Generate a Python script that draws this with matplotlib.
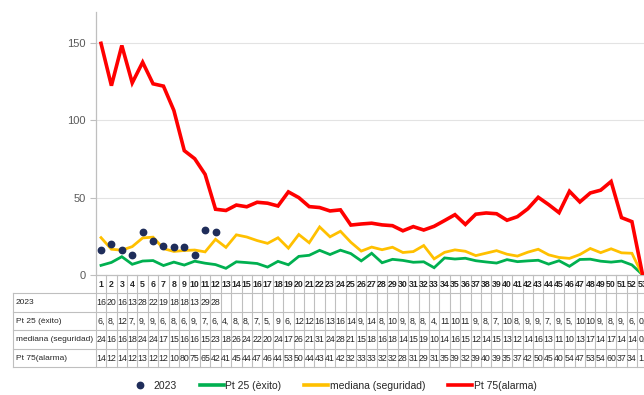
import matplotlib
matplotlib.use('Agg')
import matplotlib.pyplot as plt
from matplotlib.lines import Line2D
from matplotlib.transforms import blended_transform_factory

# ---------------- data ----------------
weeks = list(range(1, 54))
y2023 = [16, 20, 16, 13, 28, 22, 19, 18, 18, 13, 29, 28]
pt25 = [6.4, 8.3, 12.0, 7.1, 9.2, 9.5, 6.3, 8.5, 6.6, 9.1, 7.8, 6.9, 4.5, 8.7,
        8.2, 7.6, 5.3, 9.0, 6.8, 12.2, 12.9, 16.1, 13.4, 16.2, 14.0, 9.3, 14.2,
        8.1, 10.3, 9.6, 8.4, 8.7, 4.9, 11.2, 10.5, 11.0, 9.4, 8.6, 7.9, 10.1,
        8.8, 9.3, 9.7, 7.2, 9.4, 5.8, 10.2, 10.4, 9.1, 8.5, 9.2, 6.7, 0.5]
mediana = [24.3, 16.8, 16.2, 18.5, 24.1, 24.6, 17.2, 15.4, 16.0, 16.3, 15.1,
           23.2, 18.0, 26.1, 24.7, 22.4, 20.6, 24.2, 17.5, 26.3, 21.0, 31.2,
           24.8, 28.4, 21.3, 15.6, 18.2, 16.5, 18.1, 14.7, 15.3, 19.2, 10.6,
           14.8, 16.4, 15.5, 12.7, 14.3, 15.9, 13.6, 12.4, 14.9, 16.8, 13.2,
           11.5, 10.9, 13.4, 17.3, 14.6, 17.1, 14.5, 14.2, 0.3]
pt75 = [149.6, 122.3, 148.2, 124.1, 137.4, 123.5, 122.0, 106.3, 80.4, 75.2,
        65.1, 42.6, 41.8, 45.3, 44.2, 47.1, 46.5, 44.7, 53.8, 50.1, 44.3, 43.7,
        41.5, 42.2, 32.4, 33.1, 33.6, 32.5, 32.0, 28.7, 31.4, 29.2, 31.6, 35.3,
        39.1, 32.8, 39.4, 40.2, 39.7, 35.5, 37.8, 42.9, 50.3, 45.6, 40.4, 54.2,
        47.3, 53.1, 54.9, 60.5, 37.2, 34.6, 1.2]
row_labels = ['2023', 'Pt 25 (èxito)', 'mediana (seguridad)', 'Pt 75(alarma)']
yticks = [0, 50, 100, 150]

# ---------------- style ----------------
FONT = ['Liberation Sans Narrow', 'Liberation Sans', 'DejaVu Sans']
plt.rcParams['font.family'] = FONT
C_RED, C_GREEN, C_YEL, C_DOT = '#FF0000', '#00B050', '#FFC000', '#1F2D5A'
C_GRID, C_AXIS, C_TXT = '#E3E3E3', '#BFBFBF', '#595959'
C_TAB = '#BFBFBF'
TAB_FS = 6.3
LAB_FS = 6.0

W, H = 644, 395
fig = plt.figure(figsize=(W / 100, H / 100), dpi=100)

ax_left, ax_bottom_px, ax_top_px = 95.8, 275.3, 11.7
col_w = 10.41
ax = fig.add_axes([ax_left / W, (H - ax_bottom_px) / H,
                   53 * col_w / W, (ax_bottom_px - ax_top_px) / H])

ax.plot(weeks, pt25, color=C_GREEN, lw=2.0, solid_joinstyle='miter', zorder=3)
ax.plot(weeks, mediana, color=C_YEL, lw=2.0, solid_joinstyle='miter', zorder=3)
ax.plot(weeks, pt75, color=C_RED, lw=2.6, solid_joinstyle='miter', zorder=4)
ax.plot(weeks[:len(y2023)], y2023, 'o', color=C_DOT, ms=4.6, zorder=5)

ax.set_xlim(0.5, 53.5)
ax.set_ylim(0, 170)
ax.set_yticks(yticks)
ax.set_yticklabels([str(v) for v in yticks])
ax.set_xticks([])
ax.tick_params(axis='y', length=4, width=0.8, color=C_AXIS, labelsize=8,
               labelcolor=C_TXT, pad=3)
for y in yticks[1:]:
    ax.axhline(y, color=C_GRID, lw=0.8, zorder=1)
for s in ['top', 'right']:
    ax.spines[s].set_visible(False)
for s in ['left', 'bottom']:
    ax.spines[s].set_color(C_AXIS)
    ax.spines[s].set_linewidth(0.9)

# ---------------- data table ----------------
tr = blended_transform_factory(ax.transData, fig.transFigure)


def fy(py):
    return 1 - py / H


row_edges = [293.0, 311.5, 330.0, 348.5, 367.0]
header_top = ax_bottom_px

for i in range(54):
    fig.add_artist(Line2D([i + 0.5, i + 0.5], [fy(header_top), fy(row_edges[-1])],
                          transform=tr, color=C_TAB, lw=0.8))
fig.add_artist(Line2D([13 / W, 13 / W], [fy(row_edges[0]), fy(row_edges[-1])],
                      transform=fig.transFigure, color=C_TAB, lw=0.8))
for ye in row_edges:
    fig.add_artist(Line2D([13 / W, 1.0], [fy(ye), fy(ye)],
                          transform=fig.transFigure, color=C_TAB, lw=0.8))

for w in weeks:
    fig.text(w, fy((header_top + row_edges[0]) / 2 + 0.5), str(w), transform=tr,
             ha='center', va='center', fontsize=TAB_FS, fontweight='bold',
             color='#262626')


def cell_text(v):
    s = f"{v:g}".replace('.', ',')
    return s[:2]


rows = [y2023, pt25, mediana, pt75]
for r, (lab, vals) in enumerate(zip(row_labels, rows)):
    yc = fy((row_edges[r] + row_edges[r + 1]) / 2 + 0.5)
    fig.text(16 / W, yc, lab, ha='left', va='center', fontsize=LAB_FS,
             color='#262626')
    for w, v in zip(weeks, vals):
        fig.text(w, yc, cell_text(v), transform=tr, ha='center', va='center',
                 fontsize=TAB_FS, color='#262626')

# ---------------- legend ----------------
handles = [
    Line2D([], [], ls='none', marker='o', color=C_DOT, ms=4.6),
    Line2D([], [], color=C_GREEN, lw=2.6),
    Line2D([], [], color=C_YEL, lw=2.6),
    Line2D([], [], color=C_RED, lw=2.6),
]
fig.legend(handles, ['2023', 'Pt 25 (èxito)', 'mediana (seguridad)', 'Pt 75(alarma)'],
           loc='center', bbox_to_anchor=(0.516, fy(385.7)), ncol=4, frameon=False,
           fontsize=7.5, handlelength=2.3, handletextpad=0.15, columnspacing=2.2,
           labelcolor='#262626')

fig.savefig('out.png', dpi=100)
